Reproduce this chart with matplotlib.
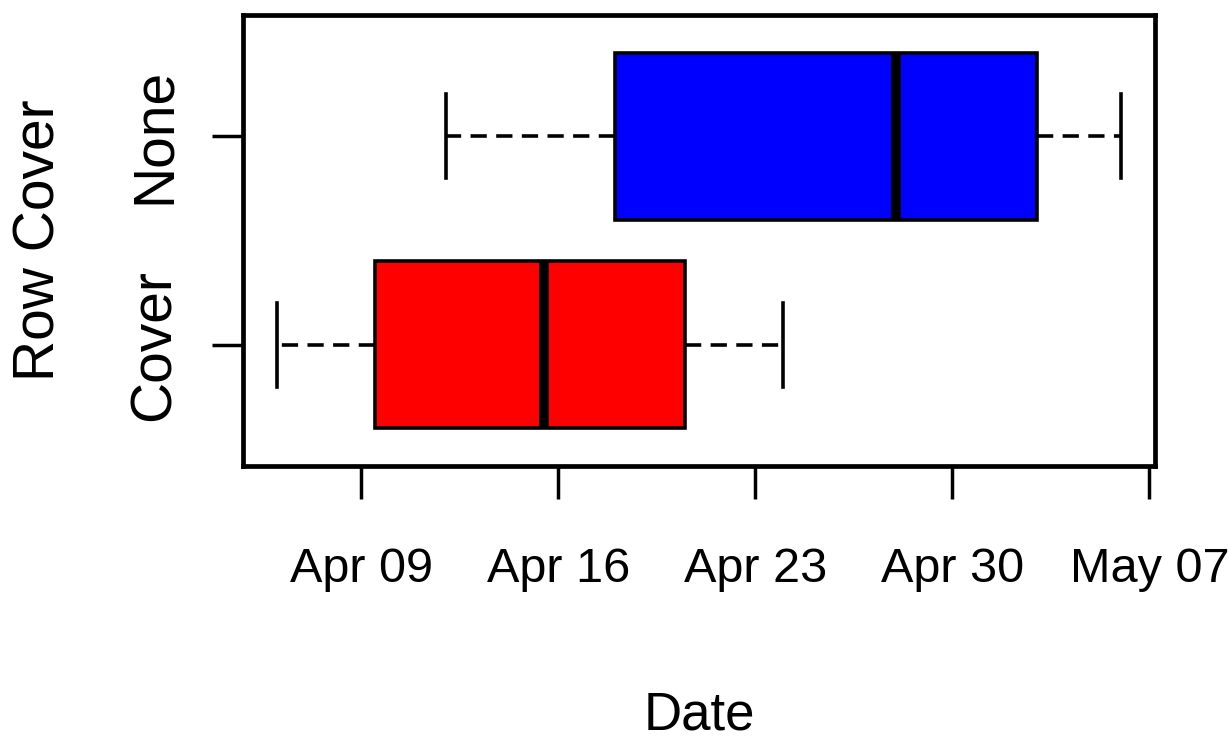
import pandas as pd
import matplotlib
matplotlib.use("Agg")
import matplotlib.pyplot as plt
import matplotlib.dates as mdates

plt.rcParams['font.family'] = ['Liberation Sans', 'DejaVu Sans']

# summary stats (whisker low, Q1, median, Q3, whisker high)
groups = ['Cover', 'None']
whis_lo = ['2019-04-06', '2019-04-12']
q1 = ['2019-04-09 12:00', '2019-04-18']
med = ['2019-04-15 12:00', '2019-04-28']
q3 = ['2019-04-20 12:00', '2019-05-03']
whis_hi = ['2019-04-24', '2019-05-06']
colors = ['#ff0000', '#0000ff']
tick_dates = ['2019-04-09', '2019-04-16', '2019-04-23', '2019-04-30', '2019-05-07']


def d(s):
    return mdates.date2num(pd.Timestamp(s))


stats = []
for i, g in enumerate(groups):
    stats.append({'label': g, 'whislo': d(whis_lo[i]), 'q1': d(q1[i]),
                  'med': d(med[i]), 'q3': d(q3[i]), 'whishi': d(whis_hi[i]),
                  'fliers': []})

fig = plt.figure(figsize=(12.29, 7.38), dpi=100)
ax = fig.add_axes([0.1977, 0.3686, 0.7421, 0.6111])

bp = ax.bxp(stats, positions=[1, 2], widths=0.8, orientation='horizontal',
            patch_artist=True, showfliers=False, capwidths=0.4,
            boxprops=dict(edgecolor='black', linewidth=2.6),
            medianprops=dict(color='black', linewidth=7, solid_capstyle='butt'),
            whiskerprops=dict(color='black', linewidth=2.6, linestyle=(0, (4.5, 2.6))),
            capprops=dict(color='black', linewidth=2.6))
for patch, c in zip(bp['boxes'], colors):
    patch.set_facecolor(c)

lo = min(d(s) for s in whis_lo)
hi = max(d(s) for s in whis_hi)
pad = (hi - lo) * 0.04
ax.set_xlim(lo - pad, hi + pad)
ax.set_ylim(0.42, 2.58)

ax.set_xticks([d(s) for s in tick_dates])
ax.xaxis.set_major_formatter(mdates.DateFormatter('%b %d'))
ax.set_yticks([1, 2])
ax.set_yticklabels(groups, rotation=90, va='center')

ax.tick_params(axis='x', length=24, width=2.5, labelsize=35, pad=34)
ax.tick_params(axis='y', length=22, width=2.5, labelsize=41, pad=22)
for s in ax.spines.values():
    s.set_linewidth(3.4)

ax.set_xlabel('Date', fontsize=38, labelpad=71)
ax.set_ylabel('Row Cover', fontsize=41, labelpad=44)

fig.savefig('out.png', dpi=100)
